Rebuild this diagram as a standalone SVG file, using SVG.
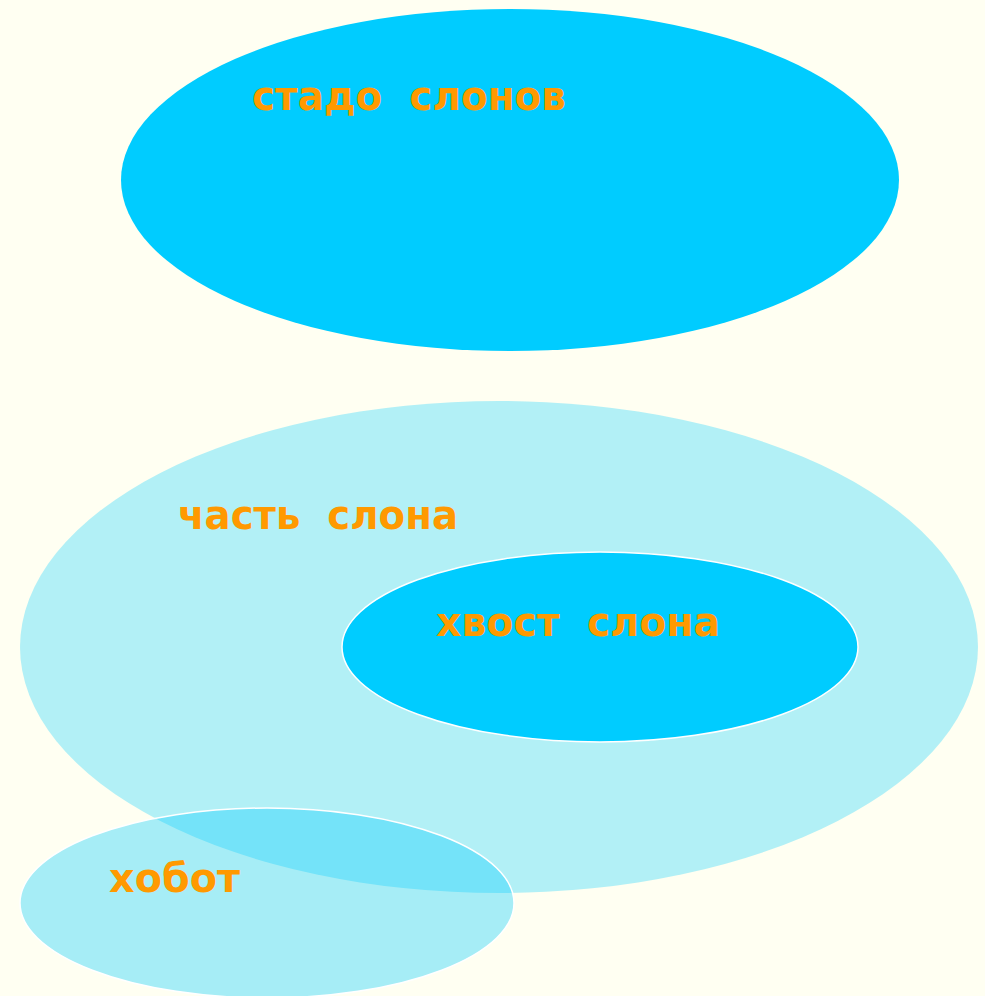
<svg xmlns="http://www.w3.org/2000/svg" width="985" height="996" viewBox="0 0 985 996">
<style>
.lbl{font-family:"DejaVu Sans","Noto Sans",sans-serif;font-weight:bold;font-size:41px;fill:#FF9900;white-space:pre}
.solid{fill:#00CCFF}
.light{fill:#00CCFF;fill-opacity:0.3}
</style>
<rect x="0" y="0" width="985" height="996" fill="#FFFFF2"/>
<g id="connectors"/>
<g id="stado">
<ellipse class="solid" cx="510" cy="180" rx="389" ry="171"/>
<text class="lbl" x="252" y="110" textLength="314" lengthAdjust="spacingAndGlyphs">стадо  слонов</text>
</g>
<g id="chast">
<ellipse class="light" cx="499" cy="647" rx="479" ry="246"/>
<text class="lbl" x="178" y="529" textLength="280" lengthAdjust="spacingAndGlyphs">часть  слона</text>
</g>
<g id="hvost">
<ellipse class="solid" cx="600" cy="647" rx="258" ry="95" stroke="#FFFFFF" stroke-width="1.5"/>
<text class="lbl" x="436" y="636" textLength="284" lengthAdjust="spacingAndGlyphs">хвост  слона</text>
</g>
<g id="hobot">
<ellipse cx="267" cy="903" rx="247" ry="95" fill="#00CCFF" fill-opacity="0.35" stroke="#FFFFFF" stroke-width="1.5"/>
<text class="lbl" x="109" y="892" textLength="131" lengthAdjust="spacingAndGlyphs">хобот</text>
</g>
</svg>
